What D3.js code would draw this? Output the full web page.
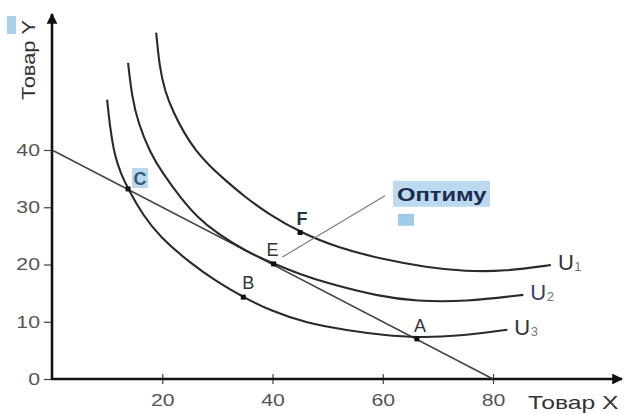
<!DOCTYPE html>
<html><head><meta charset="utf-8">
<script src="https://cdn.jsdelivr.net/npm/d3@7"></script>
<style>body{margin:0;background:#fff}svg{display:block}</style>
</head><body>
<svg id="c" width="625" height="414"></svg>
<script>
// ---- data ----
const xTicks = [20, 40, 60, 80];
const yTicks = [0, 10, 20, 30, 40];
const budgetLine = [[0, 40], [80, 0]];
const curveU1 = [[18.9, 60.5], [19.5, 54.5], [20.5, 50.2], [22, 46.6], [24, 42.9], [26, 40.0], [28.5, 37.3], [31, 35.1], [35, 31.8], [39, 29.0], [45, 25.6], [52, 22.9], [60, 20.9], [68, 19.5], [75, 18.8], [82, 18.8], [90.5, 19.9]];
const curveU2 = [[13.8, 55.2], [14.5, 49.3], [15.6, 44.8], [17.8, 39.5], [20.1, 35.9], [23.2, 31.8], [26.3, 28.3], [30, 25.4], [35, 22.4], [40, 20.2], [45, 18.3], [50, 16.7], [59.5, 14.4], [66, 13.6], [75, 13.5], [85.5, 14.7]];
const curveU3 = [[10, 48.8], [10.5, 44.1], [11.4, 38.8], [12.5, 35.9], [13.8, 33.2], [16.5, 28.6], [19.6, 24.8], [25, 20.3], [29.9, 17.0], [34.7, 14.3], [39.7, 11.9], [46, 9.8], [54.1, 8.4], [60, 7.7], [66.2, 7.2], [74, 7.5], [82.6, 8.6]];
const curveNames = ["U", "U", "U"];
const curveSubs = ["1", "2", "3"];
const pointNames = ["C", "B", "E", "F", "A"];
const pointX = [13.8, 34.7, 40.2, 45, 66.2];
const pointY = [33.2, 14.3, 20.1, 25.6, 7.0];
const leaderLine = [[41.8, 21.3], [60.4, 32.0]];
const optimumText = "Оптиму";
const xTitle = "Товар X";
const yTitle = "Товар Y";

// ---- drawing ----
const svg = d3.select("#c");
const x = d3.scaleLinear().domain([0, 80]).range([52, 493]);
const y = d3.scaleLinear().domain([0, 40]).range([379, 150]);
const FONT = "'Liberation Sans', Arial, sans-serif";

function stretch(sel, f) {
  sel.each(function () {
    const w = this.getComputedTextLength();
    d3.select(this).attr("textLength", w * f).attr("lengthAdjust", "spacingAndGlyphs");
  });
}

const defs = svg.append("defs");
defs.append("marker").attr("id", "arr").attr("viewBox", "0 0 10 10")
  .attr("refX", 9).attr("refY", 5).attr("markerWidth", 4.2).attr("markerHeight", 4.2)
  .attr("markerUnits", "strokeWidth").attr("orient", "auto")
  .append("path").attr("d", "M0,0 L10,5 L0,10 Z").attr("fill", "#111");

// Y axis
const yAxis = svg.append("g").attr("transform", "translate(52,0)")
  .call(d3.axisLeft(y).tickValues(yTicks).tickSize(8).tickPadding(5).tickFormat(d3.format("d")));
yAxis.select(".domain").remove();
yAxis.selectAll("line").attr("stroke", "#444").attr("stroke-width", 1.2);
yAxis.selectAll("text").attr("font-family", FONT).attr("font-size", 17).attr("fill", "#555")
  .attr("x", -12).call(stretch, 1.25);

// X axis
const xAxis = svg.append("g").attr("transform", "translate(0,379)")
  .call(d3.axisBottom(x).tickValues(xTicks).tickSize(5).tickPadding(10).tickFormat(d3.format("d")));
xAxis.select(".domain").remove();
xAxis.selectAll("line").attr("y1", -5).attr("stroke", "#444").attr("stroke-width", 1.2);
xAxis.selectAll("text").attr("font-family", FONT).attr("font-size", 17).attr("fill", "#555")
  .call(stretch, 1.25);

// axis lines with arrows
svg.append("line").attr("x1", 52).attr("y1", 380).attr("x2", 52).attr("y2", 14)
  .attr("stroke", "#111").attr("stroke-width", 2.6).attr("marker-end", "url(#arr)");
svg.append("line").attr("x1", 51).attr("y1", 379).attr("x2", 622).attr("y2", 379)
  .attr("stroke", "#111").attr("stroke-width", 2.6).attr("marker-end", "url(#arr)");

// budget line
const lineGen = d3.line().x(d => x(d[0])).y(d => y(d[1]));
svg.append("path").attr("d", lineGen(budgetLine)).attr("fill", "none")
  .attr("stroke", "#444").attr("stroke-width", 1.5);

// indifference curves
const curveGen = d3.line().x(d => x(d[0])).y(d => y(d[1])).curve(d3.curveBasis);
const curves = [curveU1, curveU2, curveU3];
curves.forEach((c, i) => {
  svg.append("path").attr("d", curveGen(c)).attr("fill", "none")
    .attr("stroke", "#2a2a2a").attr("stroke-width", 2.1);
  const end = c[c.length - 1];
  const ex = x(end[0]) + 7, ey = y(end[1]) + 5;
  const t = svg.append("text").attr("x", ex).attr("y", ey).text(curveNames[i])
    .attr("font-family", FONT).attr("font-size", 22)
    .attr("fill", i === 1 ? "#3a3a66" : "#333");
  const w = t.node().getComputedTextLength();
  svg.append("text").attr("x", ex + w + 0.5).attr("y", ey + 1).text(curveSubs[i])
    .attr("font-family", FONT).attr("font-size", 13).attr("fill", "#777");
});

// leader line
svg.append("path").attr("d", lineGen(leaderLine)).attr("fill", "none")
  .attr("stroke", "#777").attr("stroke-width", 1.1);

// points
const labelOff = { C: [12, -4], B: [5, -8], E: [-1, -8], F: [2, -7], A: [3, -7] };
pointNames.forEach((n, i) => {
  const px = x(pointX[i]), py = y(pointY[i]);
  svg.append("rect").attr("x", px - 2.5).attr("y", py - 2.5).attr("width", 5).attr("height", 5)
    .attr("fill", "#111");
  const o = labelOff[n];
  if (n === "C") {
    svg.append("rect").attr("x", px + o[0] - 8).attr("y", py + o[1] - 17).attr("width", 16).attr("height", 20)
      .attr("fill", "#b9d8ec");
  }
  svg.append("text").attr("x", px + o[0]).attr("y", py + o[1]).text(n)
    .attr("text-anchor", "middle").attr("font-family", FONT).attr("font-size", 18)
    .attr("font-weight", (n === "C" || n === "F") ? "bold" : "normal")
    .attr("fill", n === "C" ? "#2d5a80" : (n === "F" ? "#1f3550" : "#333"));
});

// optimum label
const le = leaderLine[1];
const ox = x(le[0]) + 8, oy = y(le[1]) - 15;
svg.append("rect").attr("x", ox).attr("y", oy).attr("width", 97).attr("height", 26).attr("fill", "#bcd9ee");
svg.append("text").attr("x", ox + 4).attr("y", oy + 20).text(optimumText)
  .attr("font-family", FONT).attr("font-size", 18).attr("font-weight", "bold").attr("fill", "#1b2c4e")
  .call(stretch, 1.32);
svg.append("rect").attr("x", ox + 5).attr("y", oy + 33).attr("width", 16).attr("height", 12).attr("fill", "#9ecbe7");

// axis titles
svg.append("text").attr("x", 528).attr("y", 409).text(xTitle)
  .attr("font-family", FONT).attr("font-size", 19).attr("fill", "#333").call(stretch, 1.3);
svg.append("rect").attr("x", 7).attr("y", 16).attr("width", 9).attr("height", 18).attr("fill", "#a9d0ea");
const yt = svg.append("text").attr("transform", "translate(35,100) rotate(-90)").text(yTitle)
  .attr("font-family", FONT).attr("font-size", 19).attr("fill", "#333");
yt.call(stretch, 1.15);
</script>
</body></html>
